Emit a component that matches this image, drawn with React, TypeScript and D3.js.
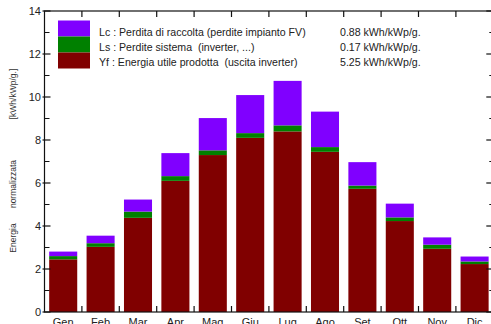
import { useMemo } from 'react';
import * as d3 from 'd3';

const months = ['Gen', 'Feb', 'Mar', 'Apr', 'Mag', 'Giu', 'Lug', 'Ago', 'Set', 'Ott', 'Nov', 'Dic'];
// energia utile prodotta, perdite sistema, perdite di raccolta [kWh/kWp/g.]
const yf = [2.45, 3.03, 4.38, 6.1, 7.3, 8.1, 8.4, 7.45, 5.73, 4.23, 2.94, 2.23];
const ls = [0.15, 0.17, 0.29, 0.22, 0.22, 0.22, 0.28, 0.22, 0.15, 0.17, 0.19, 0.12];
const lc = [0.21, 0.35, 0.56, 1.07, 1.5, 1.77, 2.07, 1.65, 1.09, 0.64, 0.34, 0.23];

const legendKeys = ['lc', 'ls', 'yf'];
const legendLabels = [
  'Lc : Perdita di raccolta (perdite impianto FV)',
  'Ls : Perdite sistema  (inverter, ...)',
  'Yf : Energia utile prodotta  (uscita inverter)',
];
const legendValues = ['0.88 kWh/kWp/g.', '0.17 kWh/kWp/g.', '5.25 kWh/kWp/g.'];
const yTicks = [0, 2, 4, 6, 8, 10, 12, 14];
const yMinor = [1, 3, 5, 7, 9, 11, 13];

const colors: Record<string, string> = { yf: '#800000', ls: '#008000', lc: '#8000ff' };

const W = 491;
const H = 324;
const left = 44.5;
const right = 493.3;
const top = 11;
const bottom = 312;
const font = '"Liberation Sans", Arial, sans-serif';

export default function App() {
  const rows = months.map((m, i) => ({ month: m, yf: yf[i], ls: ls[i], lc: lc[i] }));

  const x = d3.scaleBand<string>().domain(months).range([left, right]).paddingInner(0.25).paddingOuter(0.125);
  const y = d3.scaleLinear().domain([0, 14]).range([bottom, top]);

  const series = useMemo(() => d3.stack<any>().keys(['yf', 'ls', 'lc'])(rows), []);
  const step = x.step();
  const bounds = d3.range(1, months.length).map(i => left + i * step);

  return (
    <svg width={W} height={H} style={{ position: 'absolute', left: 0, top: 0, background: '#fff' }} fontFamily={font}>
      <rect width={W} height={H} fill="#fff" />
      {series.map(s => (
        <g key={s.key} fill={colors[s.key]}>
          {s.map((d, i) => (
            <rect key={i} x={x(months[i])} width={x.bandwidth()} y={y(d[1])} height={y(d[0]) - y(d[1])} />
          ))}
        </g>
      ))}

      {/* cornice */}
      <rect x={left} y={top} width={right - left} height={bottom - top} fill="none" stroke="#111" strokeWidth={1.2} />

      {/* tacche asse y, sinistra e destra */}
      {yTicks.map(t => (
        <g key={t}>
          <line x1={left - 2} x2={left + 6} y1={y(t)} y2={y(t)} stroke="#111" strokeWidth={1.2} />
          <line x1={right - 7} x2={right} y1={y(t)} y2={y(t)} stroke="#111" strokeWidth={1.2} />
          <text x={41} y={y(t)} dy="0.36em" textAnchor="end" fontSize={11} fill="#222">{t}</text>
        </g>
      ))}
      {yMinor.map(t => (
        <g key={t}>
          <line x1={left} x2={left + 5} y1={y(t)} y2={y(t)} stroke="#111" strokeWidth={1} />
          <line x1={right - 4} x2={right} y1={y(t)} y2={y(t)} stroke="#111" strokeWidth={1} />
        </g>
      ))}

      {/* tacche asse x, sopra e sotto */}
      {bounds.map((b, i) => (
        <g key={i}>
          <line x1={b} x2={b} y1={top} y2={top + 6} stroke="#111" strokeWidth={1.2} />
          <line x1={b} x2={b} y1={bottom} y2={bottom - 6} stroke="#111" strokeWidth={1.2} />
        </g>
      ))}
      {months.map(m => (
        <text key={m} x={x(m)! + x.bandwidth() / 2} y={326} textAnchor="middle" fontSize={11} fill="#222">{m}</text>
      ))}

      {/* etichetta asse y */}
      <g fontSize={8.5} fill="#333" textAnchor="middle">
        <text transform={`translate(16,238) rotate(-90)`}>Energia</text>
        <text transform={`translate(16,184) rotate(-90)`}>normalizzata</text>
        <text transform={`translate(16,94) rotate(-90)`}>[kWh/kWp/g.]</text>
      </g>

      {/* legenda */}
      {legendKeys.map((k, i) => (
        <g key={k}>
          <rect x={58} y={20.5 + i * 16} width={32} height={16} fill={colors[k]} />
          <text x={99} y={35.5 + i * 15} fontSize={10.6} fill="#222" style={{ whiteSpace: 'pre' }}>{legendLabels[i]}</text>
          <text x={340} y={35.5 + i * 15} fontSize={10.6} fill="#222">{legendValues[i]}</text>
        </g>
      ))}
    </svg>
  );
}
